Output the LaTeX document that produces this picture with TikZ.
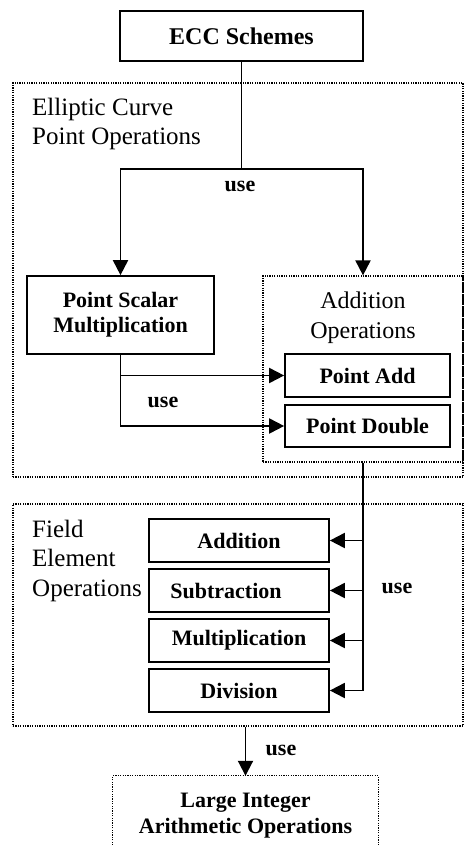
\documentclass[tikz,border=0pt]{standalone}
\usepackage{fontspec}
\setmainfont{Liberation Serif}
\usetikzlibrary{arrows.meta}
\tikzset{
  solidbox/.style={draw, line width=1.7pt, inner sep=0pt, align=center,
    font=\fontsize{22}{25}\selectfont\bfseries},
  dotbox/.style={draw, line width=1.2pt, dash pattern=on 1.2pt off 1.2pt, inner sep=0pt},
  conn/.style={line width=1.9pt, -{Triangle[length=15pt,width=15pt]}},
  plain/.style={line width=1.9pt},
  uselbl/.style={font=\fontsize{22}{25}\selectfont\bfseries, inner sep=0pt},
  grouplbl/.style={font=\fontsize{25}{29}\selectfont, inner sep=0pt, align=left},
}
\begin{document}
\begin{tikzpicture}[x=1pt,y=-1pt]
\useasboundingbox (0,0) rectangle (464,845);
\fill[white] (0,0) rectangle (464,845);

% outer groups
\node[dotbox, minimum width=450pt, minimum height=394pt] (ecpo) at (238,280) {};
\node[dotbox, minimum width=450pt, minimum height=222pt] (feo) at (238,615) {};

% top
\node[solidbox, minimum width=243pt, minimum height=50pt, font=\fontsize{24}{27}\selectfont\bfseries] (ecc) at (241.5,36) {ECC Schemes};

\node[grouplbl, anchor=base west] (ecpolbl) at (32,145) {Elliptic Curve\\Point Operations};

% point level
\node[solidbox, minimum width=187pt, minimum height=78pt] (psm) at (120.5,315) {Point Scalar\\Multiplication};
\node[dotbox, minimum width=200pt, minimum height=186pt] (addops) at (363,369) {};
\node[grouplbl, align=center, anchor=base, font=\fontsize{24}{30}\selectfont] (addopslbl) at (363,338) {Addition\\Operations};
\node[solidbox, minimum width=165pt, minimum height=43pt] (pa) at (367.5,375.5) {Point Add};
\node[solidbox, minimum width=165pt, minimum height=42pt] (pd) at (367.5,426) {Point Double};

% field level
\node[grouplbl, anchor=base west, font=\fontsize{25}{29.5}\selectfont] (felbl) at (32,596) {Field\\Element\\Operations};
\node[solidbox, minimum width=180pt, minimum height=43pt] (fadd) at (239,540.5) {Addition};
\node[solidbox, minimum width=180pt, minimum height=43pt] (fsub) at (239,590.5) {\hspace*{-26pt}Subtraction};
\node[solidbox, minimum width=180pt, minimum height=43pt] (fmul) at (239,640.5) {Multiplication};
\node[solidbox, minimum width=180pt, minimum height=43pt] (fdiv) at (239,690.5) {Division};

% large integer
\node[minimum width=265pt, minimum height=69pt, inner sep=0pt] (lia) at (245.5,810.5) {};
\draw[line width=1.2pt, dash pattern=on 1.2pt off 1.2pt] (lia.south west) -- (lia.north west) -- (lia.north east) -- (lia.south east);
\node[uselbl, align=center, anchor=base, font=\fontsize{22}{26}\selectfont\bfseries] (lialbl) at (245.5,833) {Large Integer\\Arithmetic Operations};

% connectors
\coordinate (split) at (ecc.south |- 0,169);
\draw[plain] (ecc.south) -- (split);
\draw[conn] (split) -| (psm.north);
\draw[conn] (split) -| (addops.north);
\node[uselbl] (use1) at (240,186) {use};

\draw[conn] (psm.south) |- (pd.west);
\draw[conn] (psm.south |- pa.west) -- (pa.west);
\node[uselbl] (use2) at (163,402) {use};

\draw[conn] (addops.south) |- (fdiv.east);
\draw[conn] (addops.south |- fadd.east) -- (fadd.east);
\draw[conn] (addops.south |- fsub.east) -- (fsub.east);
\draw[conn] (addops.south |- fmul.east) -- (fmul.east);
\node[uselbl] (use3) at (397,588) {use};

\draw[conn] (feo.south -| lia.north) -- (lia.north);
\node[uselbl] (use4) at (281,750) {use};
\end{tikzpicture}
\end{document}
